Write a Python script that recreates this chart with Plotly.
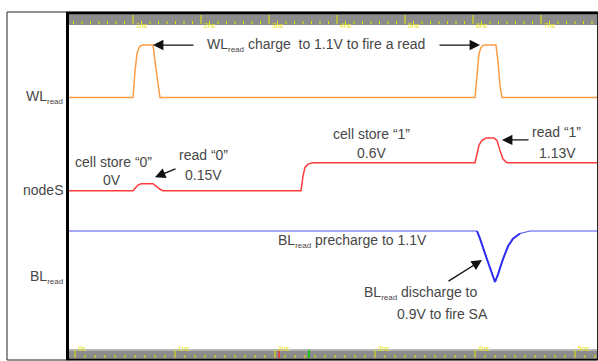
import plotly.graph_objects as go

# ---- waveform data (time in ns, voltage in V) ----
wl_t = [-0.06, 0.58, 0.60, 0.62, 0.64, 0.66, 0.69, 0.78, 0.80, 0.83, 0.85,
        4.00, 4.02, 4.04, 4.06, 4.08, 4.10, 4.21, 4.23, 4.25, 4.27, 5.22]
wl_v = [0.0, 0.0, 0.55, 0.92, 1.05, 1.09, 1.10, 1.10, 0.75, 0.25, 0.0,
        0.0, 0.55, 0.92, 1.05, 1.09, 1.10, 1.10, 0.75, 0.25, 0.0, 0.0]

node_t = [-0.06, 0.58, 0.60, 0.63, 0.66, 0.69, 0.78, 0.81, 0.85, 0.88,
          2.26, 2.28, 2.30, 2.33, 2.38,
          4.00, 4.02, 4.04, 4.07, 4.11, 4.19, 4.22, 4.25, 4.28, 4.32, 5.22]
node_v = [0.0, 0.0, 0.05, 0.12, 0.148, 0.15, 0.15, 0.10, 0.03, 0.0,
          0.0, 0.32, 0.50, 0.57, 0.60,
          0.60, 0.80, 0.98, 1.08, 1.13, 1.13, 1.08, 0.86, 0.68, 0.60, 0.60]

bl_t = [-0.06, 4.02, 4.05, 4.11, 4.17, 4.20, 4.23, 4.28, 4.33, 4.38, 4.45, 4.55, 5.22]
bl_v = [1.10, 1.10, 1.07, 1.00, 0.93, 0.90, 0.93, 0.99, 1.04, 1.07, 1.09, 1.10, 1.10]

# ruler tick positions (ns)
top_major = [0.58, 1.26, 1.94, 2.62, 3.30, 3.98, 4.66]
top_labels = ["1ns", "2ns", "3ns", "4ns", "5ns", "6ns", "7ns"]
bot_major = [0.0, 1.0, 2.0, 3.0, 4.0, 5.0]
bot_labels = ["0s", "1ns", "2ns", "3ns", "4ns", "5ns"]

# ---- page geometry ----
W, H = 598, 361
L, R, T, B = 69, 1, 12, 1
PW, PH = W - L - R, H - T - B
X0, X1 = (L - 75) / 100, (W - R - 75) / 100


def px(x):
    return (x - L) / PW


def py(y):
    return (H - B - y) / PH


def yrange(v_ref, y_ref, px_per_v):
    """axis range so that value v_ref sits at pixel row y_ref"""
    top = v_ref + (y_ref - T) / px_per_v
    bot = v_ref - (H - B - y_ref) / px_per_v
    return [bot, top]


fig = go.Figure()
fig.add_trace(go.Scatter(x=wl_t, y=wl_v, mode="lines", yaxis="y",
                         line=dict(color="#FC9D45", width=1.5), hoverinfo="skip"))
fig.add_trace(go.Scatter(x=node_t, y=node_v, mode="lines", yaxis="y2",
                         line=dict(color="#FF3C3C", width=1.5), hoverinfo="skip"))
fig.add_trace(go.Scatter(x=bl_t, y=bl_v, mode="lines", yaxis="y3",
                         line=dict(color="#5050F5", width=1.1), hoverinfo="skip"))
# the discharge dip is drawn heavier
fig.add_trace(go.Scatter(x=bl_t[1:-2], y=bl_v[1:-2], mode="lines", yaxis="y3",
                         line=dict(color="#2F2FF0", width=2), hoverinfo="skip"))

shapes = []
# outer thin frame
shapes.append(dict(type="rect", xref="paper", yref="paper",
                   x0=px(7), x1=px(597.5), y0=py(360), y1=py(12),
                   line=dict(color="#222", width=1)))
# rulers
shapes.append(dict(type="rect", xref="paper", yref="paper", layer="below",
                   x0=px(69), x1=px(598), y0=py(25), y1=py(14),
                   fillcolor="#8C8C8C", line=dict(width=0)))
shapes.append(dict(type="rect", xref="paper", yref="paper", layer="below",
                   x0=px(69), x1=px(598), y0=py(359), y1=py(349),
                   fillcolor="#8C8C8C", line=dict(width=0)))
shapes.append(dict(type="rect", xref="paper", yref="paper", layer="below",
                   x0=px(69), x1=px(598), y0=py(351), y1=py(349),
                   fillcolor="#B5B5B5", line=dict(width=0)))
# top ruler ticks
step = 0.68 / 8
t = top_major[0]
while t - step > X0:
    t -= step
while t < X1:
    major = any(abs(t - m) < 1e-6 for m in top_major)
    shapes.append(dict(type="line", xref="x", yref="paper", x0=t, x1=t,
                       y0=py(24), y1=py(15 if major else 21),
                       line=dict(color="#E6E600", width=1)))
    t += step
# bottom ruler ticks
step = 0.1
t = X0 + 0.06
while t - step > X0:
    t -= step
while t < X1:
    major = any(abs(t - m) < 1e-6 for m in bot_major)
    shapes.append(dict(type="line", xref="x", yref="paper", x0=t, x1=t,
                       y0=py(358), y1=py(350 if major else 355),
                       line=dict(color="#E6E600", width=1)))
    t += step
# cursors on bottom ruler
shapes.append(dict(type="line", xref="x", yref="paper", x0=2.04, x1=2.04,
                   y0=py(358), y1=py(350), line=dict(color="#FF3030", width=1.5)))
shapes.append(dict(type="line", xref="x", yref="paper", x0=2.34, x1=2.34,
                   y0=py(358), y1=py(350), line=dict(color="#20C020", width=2)))
# panel border
shapes.append(dict(type="line", xref="paper", yref="paper", x0=px(67.5), x1=px(67.5),
                   y0=py(360), y1=py(12), line=dict(color="#000", width=3)))
shapes.append(dict(type="line", xref="paper", yref="paper", x0=px(66), x1=px(598),
                   y0=py(13), y1=py(13), line=dict(color="#000", width=2.5)))
shapes.append(dict(type="line", xref="paper", yref="paper", x0=px(66), x1=px(598),
                   y0=py(359.5), y1=py(359.5), line=dict(color="#000", width=1.5)))

TXT = dict(family="Liberation Sans, Arial, sans-serif", size=14, color="#474747")
SUB = '<sub><span style="font-size:8px">read</span></sub>'
RULER = dict(size=7, color="#E6E600", family="Liberation Sans")

ann = []
for m, lab in zip(top_major, top_labels):
    ann.append(dict(x=m, y=py(19.5), xref="x", yref="paper", text=lab, showarrow=False,
                    xanchor="left", xshift=1, font=RULER))
for m, lab in zip(bot_major, bot_labels):
    ann.append(dict(x=m, y=py(354), xref="x", yref="paper", text=lab, showarrow=False,
                    xanchor="left", xshift=1, font=RULER))

# signal names
for name, yp in [("WL" + SUB, 97), ("nodeS", 190), ("BL" + SUB, 277)]:
    ann.append(dict(x=px(65), y=py(yp), xref="paper", yref="paper", text=name,
                    showarrow=False, xanchor="right", yanchor="middle", font=TXT))

# notes
notes = [
    ("WL" + SUB + " charge  to 1.1V to fire a read", 2.41, 1.10, "y"),
    ("cell store “0”", 0.38, 0.615, "y2"),
    ("0V", 0.37, 0.23, "y2"),
    ("read “0”", 1.28, 0.77, "y2"),
    ("0.15V", 1.28, 0.335, "y2"),
    ("cell store “1”", 2.96, 1.217, "y2"),
    ("0.6V", 2.96, 0.81, "y2"),
    ("read “1”", 4.81, 1.26, "y2"),
    ("1.13V", 4.82, 0.81, "y2"),
    ("BL" + SUB + " precharge to 1.1V", 2.77, 1.061, "y3"),
    ("BL" + SUB + " discharge to", 3.46, 0.857, "y3"),
    ("0.9V to fire SA", 3.67, 0.775, "y3"),
]
for text, x, y, yr in notes:
    ann.append(dict(x=x, y=y, xref="x", yref=yr, text=text, showarrow=False,
                    xanchor="center", yanchor="middle", font=TXT))

# arrows: (head x, head y, axis, tail dx, tail dy)
arrows = [
    (0.78, 1.10, "y", 42, 0),
    (4.05, 1.10, "y", -42, 0),
    (0.80, 0.29, "y2", 22, -9),
    (4.27, 1.09, "y2", 28, 0),
    (4.07, 0.986, "y3", -35, 22),
]
for x, y, yr, dx, dy in arrows:
    ann.append(dict(x=x, y=y, xref="x", yref=yr, ax=dx, ay=dy, text="",
                    showarrow=True, arrowhead=2, arrowsize=1.6, arrowwidth=1.3,
                    arrowcolor="#111"))

fig.update_layout(
    width=W, height=H, margin=dict(l=L, r=R, t=T, b=B),
    paper_bgcolor="white", plot_bgcolor="white", showlegend=False,
    xaxis=dict(range=[X0, X1], visible=False, fixedrange=True),
    yaxis=dict(range=yrange(0.0, 97.5, 47.7), visible=False),
    yaxis2=dict(range=yrange(0.0, 190.7, 46.6), visible=False, overlaying="y"),
    yaxis3=dict(range=yrange(1.1, 231.0, 255.0), visible=False, overlaying="y"),
    shapes=shapes, annotations=ann,
)
fig.write_html("out.html")
